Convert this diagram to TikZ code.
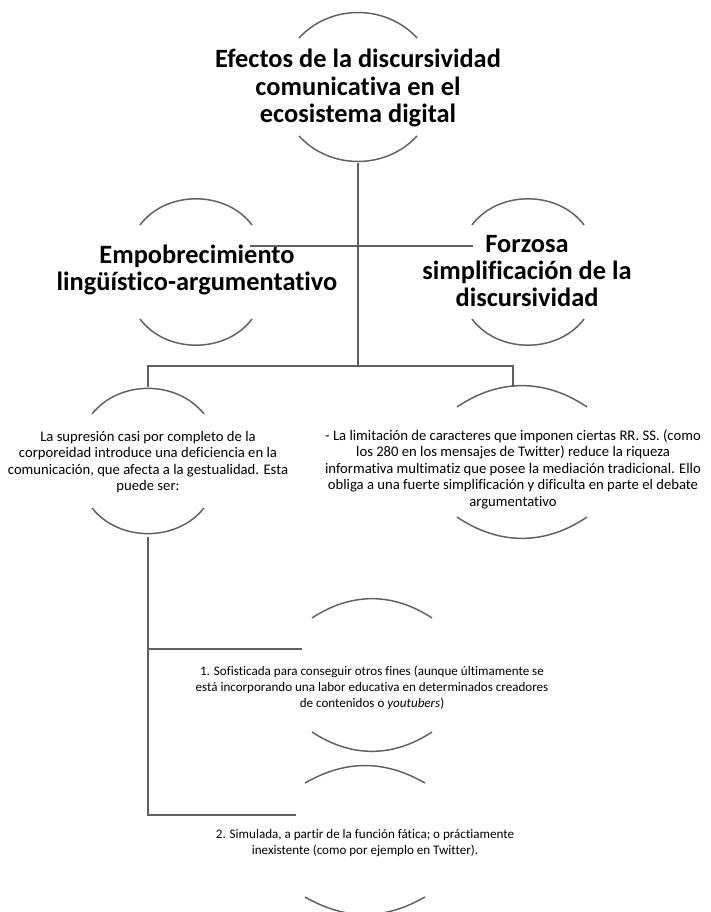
\documentclass[tikz,border=0pt]{standalone}
\usepackage{fontspec}
\setmainfont{Carlito}[Ligatures=NoCommon]
\usetikzlibrary{calc}
\definecolor{linegray}{HTML}{606060}
\tikzset{
  bubble/.style={align=center, inner sep=0pt, minimum height=112.5pt},
  headtext/.style={bubble, font=\bfseries\fontsize{19.8}{20.3}\selectfont},
  leaftext/.style={bubble, font=\fontsize{11}{12.4}\selectfont},
  arcline/.style={draw=linegray, line width=1.1pt},
  link/.style={draw=linegray, line width=1.5pt},
}
\newcommand{\bubblearcs}[4]{%
  \pgfmathsetmacro{\bendang}{2*atan(#4/#2)}
  \draw[arcline] ($#1+(-#2,-#3)$) to[bend left=\bendang] ($#1+(#2,-#3)$);
  \draw[arcline] ($#1+(-#2,#3)$) to[bend right=\bendang] ($#1+(#2,#3)$);
}
\begin{document}
\begin{tikzpicture}[x=0.75pt, y=-0.75pt]
      \useasboundingbox (0,0) rectangle (710,912);
      \node[headtext] (efectos) at (358,88)
        {Efectos de la discursividad\\ comunicativa en el\\ ecosistema digital};
      \node[headtext] (empob) at (197,270)
        {Empobrecimiento\\ lingüístico-argumentativo};
      \node[headtext] (forzosa) at (527,271)
        {Forzosa\\ simplificación de la\\ discursividad};
      \node[leaftext] (supresion) at (148,462)
        {La supresión casi por completo de la\\ corporeidad introduce una deficiencia en la\\ comunicación, que afecta a la gestualidad. Esta\\ puede ser:};
      \node[leaftext, minimum height=123pt] (limitacion) at (513,469)
        {- La limitación de caracteres que imponen ciertas RR. SS. (como\\ los 280 en los mensajes de Twitter) reduce la riqueza\\ informativa multimatiz que posee la mediación tradicional. Ello\\ obliga a una fuerte simplificación y dificulta en parte el debate\\ argumentativo};
      \node[leaftext, font=\fontsize{9.8}{12.2}\selectfont] (sofisticada) at (372,688)
        {1. Sofisticada para conseguir otros fines (aunque últimamente se\\ está incorporando una labor educativa en determinados creadores\\ de contenidos o \textit{youtubers})};
      \node[leaftext, font=\fontsize{9.8}{11.5}\selectfont] (simulada) at (365,843)
        {2. Simulada, a partir de la función fática; o práctiamente\\ inexistente (como por ejemplo en Twitter).};
      \begin{scope}
        \bubblearcs{(358,87)}{59}{49}{26}
        \bubblearcs{(196,272)}{56}{47}{28}
        \bubblearcs{(528,272)}{56}{47}{28}
        \bubblearcs{(148,461)}{56}{47}{27}
        \bubblearcs{(522,462)}{65}{55}{20}
        \bubblearcs{(372,675)}{60}{57}{18}
        \bubblearcs{(365,840)}{60}{57}{16}
      \end{scope}
      \coordinate (hub) at (358,366);
      \coordinate (empob-out) at ($(empob)+(53,-24)$);
      \coordinate (forzosa-in) at ($(forzosa)+(-54,-25)$);
      \coordinate (sofisticada-in) at ($(sofisticada)+(-70,-39)$);
      \coordinate (simulada-in) at ($(simulada)+(-69,-28)$);
      \begin{scope}[link]
        \draw (efectos.south) -- (hub);
        \draw (empob-out) -- (forzosa-in);
        \draw (supresion.north) |- (hub) -| (limitacion.north);
        \draw (supresion.south) |- (simulada-in);
        \draw (supresion.south |- sofisticada-in) -- (sofisticada-in);
      \end{scope}
    \end{tikzpicture}
\end{document}
